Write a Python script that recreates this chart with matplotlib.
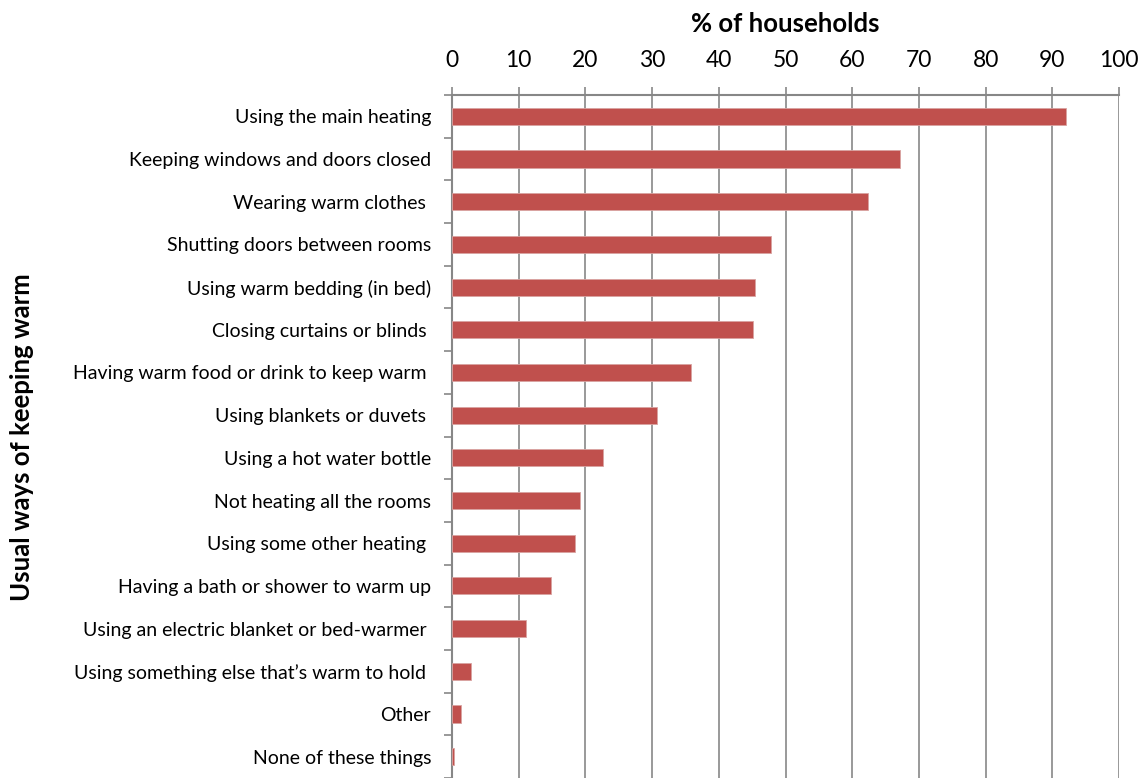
import matplotlib
matplotlib.use("Agg")
import matplotlib.pyplot as plt
import numpy as np

plt.rcParams['font.family'] = ['Lato', 'DejaVu Sans']

categories = [
    "Using the main heating",
    "Keeping windows and doors closed",
    "Wearing warm clothes ",
    "Shutting doors between rooms",
    "Using warm bedding (in bed)",
    "Closing curtains or blinds ",
    "Having warm food or drink to keep warm ",
    "Using blankets or duvets ",
    "Using a hot water bottle",
    "Not heating all the rooms",
    "Using some other heating ",
    "Having a bath or shower to warm up",
    "Using an electric blanket or bed-warmer ",
    "Using something else that\u2019s warm to hold ",
    "Other",
    "None of these things",
]
values = [92.0, 67.1, 62.3, 47.8, 45.5, 45.2, 35.9, 30.7,
          22.6, 19.2, 18.4, 14.8, 11.1, 2.85, 1.35, 0.25]
xticks = list(range(0, 101, 10))

barcolor = "#C0504D"
gridcolor = "#878787"

fig = plt.figure(figsize=(11.45, 7.78), dpi=100)
ax = fig.add_axes([452/1145, 0.0, (1119-452)/1145, (778-95)/778])

y = np.arange(len(categories))
ax.barh(y, values, height=0.4, color=barcolor, edgecolor="#D9A3A1", linewidth=0.6, zorder=3)

ax.set_xlim(0, 100)
ax.set_ylim(len(categories) - 0.5, -0.5)

ax.xaxis.tick_top()
ax.xaxis.set_label_position('top')
ax.set_xticks(xticks)
ax.set_xticklabels([str(t) for t in xticks], fontsize=16.5)
ax.tick_params(axis='x', direction='out', length=6, width=1.2, color=gridcolor, pad=11)
ax.grid(axis='x', color=gridcolor, linewidth=1.2, zorder=0)

ax.set_yticks(y)
ax.set_yticklabels(categories, fontsize=14)
ax.set_yticks(np.arange(len(categories) + 1) - 0.5, minor=True)
ax.tick_params(axis='y', which='major', length=0, pad=15)
ax.tick_params(axis='y', which='minor', direction='out', length=6, width=1.2, color=gridcolor)

for side in ['right', 'bottom']:
    ax.spines[side].set_visible(False)
for side in ['top', 'left']:
    ax.spines[side].set_color(gridcolor)
    ax.spines[side].set_linewidth(1.5)

ax.set_xlabel("% of households", fontsize=18.5, fontweight='bold', labelpad=13)
fig.text(22/1145, 1 - 437/778, "Usual ways of keeping warm", rotation=90,
         fontsize=18.5, fontweight='bold', ha='center', va='center')

fig.savefig("out.png", dpi=100)
